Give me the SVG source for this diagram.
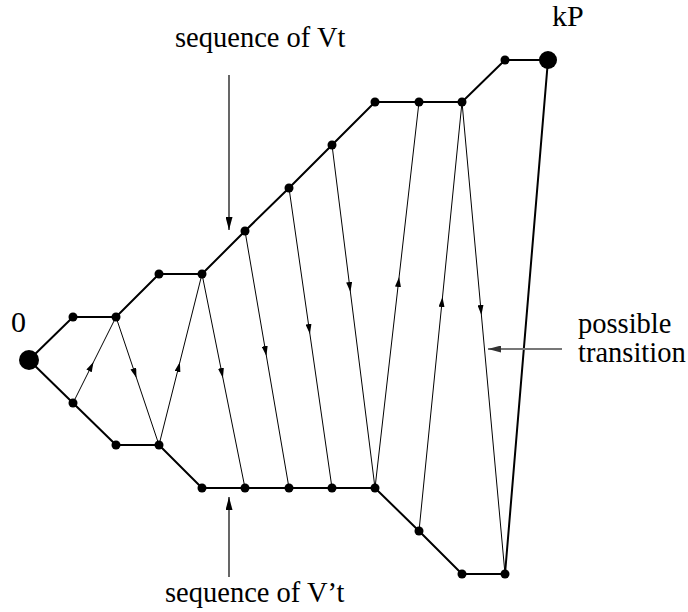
<svg xmlns="http://www.w3.org/2000/svg" width="688" height="612" viewBox="0 0 688 612">
<style>
  .lbl { font-family: "Liberation Serif", "Times New Roman", serif; font-size: 28.5px; fill: #000; }
  .thick { fill: none; stroke: #000; stroke-width: 2; stroke-linejoin: miter; }
  .thin { fill: none; stroke: #000; stroke-width: 1; marker-mid: url(#tri); }
  .dot { fill: #000; }
  .ptr { fill: none; stroke: #000; stroke-width: 1.2; marker-end: url(#ptrhead); }
  .gptr { fill: none; stroke: #777; stroke-width: 2; marker-end: url(#gptrhead); }
</style>
<defs>
  <marker id="tri" viewBox="0 0 10 6" refX="10" refY="3" markerWidth="10" markerHeight="6" markerUnits="userSpaceOnUse" orient="auto">
    <path d="M0,0 L10,3 L0,6 z" fill="#000"/>
  </marker>
  <marker id="ptrhead" viewBox="0 0 13 7" refX="13" refY="3.5" markerWidth="13" markerHeight="7" markerUnits="userSpaceOnUse" orient="auto">
    <path d="M0,0 L13,3.5 L0,7 z" fill="#000"/>
  </marker>
  <marker id="gptrhead" viewBox="0 0 13 7" refX="13" refY="3.5" markerWidth="13" markerHeight="7" markerUnits="userSpaceOnUse" orient="auto">
    <path d="M0,0 L13,3.5 L0,7 z" fill="#333"/>
  </marker>
</defs>
<rect width="688" height="612" fill="#fff"/>
<g id="connectors">
  <path class="thick" d="M29,360 L73,317 L116,317 L159,274 L202,274 L245,231 L289,188 L332,145 L375,102 L419,102 L462,102 L505,60 L548,60 L505,574"/>
  <path class="thick" d="M29,360 L73,403 L116,445 L159,445 L202,488 L245,488 L289,488 L332,488 L375,488 L419,531 L462,574 L505,574"/>
  <path class="thin" d="M73,403 L93.5,362 L116,317"/>
  <path class="thin" d="M116,317 L136.5,378 L159,445"/>
  <path class="thin" d="M159,445 L179.9,362 L202,274"/>
  <path class="thin" d="M202,274 L222.9,378 L245,488"/>
  <path class="thin" d="M245,231 L266.4,356 L289,488"/>
  <path class="thin" d="M289,188 L309.9,334 L332,488"/>
  <path class="thin" d="M332,145 L350.4,292 L375,488"/>
  <path class="thin" d="M375,488 L399.1,277 L419,102"/>
  <path class="thin" d="M419,531 L442.5,297 L462,102"/>
  <path class="thin" d="M462,102 L481.4,315 L505,574"/>
  <path class="ptr" d="M229,75 L229,230"/>
  <path class="ptr" d="M229,577 L229,497"/>
  <path class="gptr" d="M562,349 L488,349"/>
</g>
<g id="node-0"><circle class="dot" cx="29" cy="360" r="10"/><text class="lbl" x="11" y="332" style="font-size:30px">0</text></g>
<g id="node-kP"><circle class="dot" cx="548" cy="60" r="9"/><text class="lbl" x="552" y="26" style="font-size:30px">kP</text></g>
<g id="upper-nodes">
  <g id="v1"><circle class="dot" cx="73" cy="317" r="4.5"/></g>
  <g id="v2"><circle class="dot" cx="116" cy="317" r="4.5"/></g>
  <g id="v3"><circle class="dot" cx="159" cy="274" r="4.5"/></g>
  <g id="v4"><circle class="dot" cx="202" cy="274" r="4.5"/></g>
  <g id="v5"><circle class="dot" cx="245" cy="231" r="4.5"/></g>
  <g id="v6"><circle class="dot" cx="289" cy="188" r="4.5"/></g>
  <g id="v7"><circle class="dot" cx="332" cy="145" r="4.5"/></g>
  <g id="v8"><circle class="dot" cx="375" cy="102" r="4.5"/></g>
  <g id="v9"><circle class="dot" cx="419" cy="102" r="4.5"/></g>
  <g id="v10"><circle class="dot" cx="462" cy="102" r="4.5"/></g>
  <g id="v11"><circle class="dot" cx="505" cy="60" r="4.5"/></g>
</g>
<g id="lower-nodes">
  <g id="w1"><circle class="dot" cx="73" cy="403" r="4.5"/></g>
  <g id="w2"><circle class="dot" cx="116" cy="445" r="4.5"/></g>
  <g id="w3"><circle class="dot" cx="159" cy="445" r="4.5"/></g>
  <g id="w4"><circle class="dot" cx="202" cy="488" r="4.5"/></g>
  <g id="w5"><circle class="dot" cx="245" cy="488" r="4.5"/></g>
  <g id="w6"><circle class="dot" cx="289" cy="488" r="4.5"/></g>
  <g id="w7"><circle class="dot" cx="332" cy="488" r="4.5"/></g>
  <g id="w8"><circle class="dot" cx="375" cy="488" r="4.5"/></g>
  <g id="w9"><circle class="dot" cx="419" cy="531" r="4.5"/></g>
  <g id="w10"><circle class="dot" cx="462" cy="574" r="4.5"/></g>
  <g id="w11"><circle class="dot" cx="505" cy="574" r="4.5"/></g>
</g>
<g id="label-vt"><text class="lbl" x="175" y="47">sequence of Vt</text></g>
<g id="label-vpt"><text class="lbl" x="165" y="602">sequence of V’t</text></g>
<g id="label-transition"><text class="lbl" x="578" y="333">possible</text><text class="lbl" x="578" y="362">transition</text></g>
</svg>
